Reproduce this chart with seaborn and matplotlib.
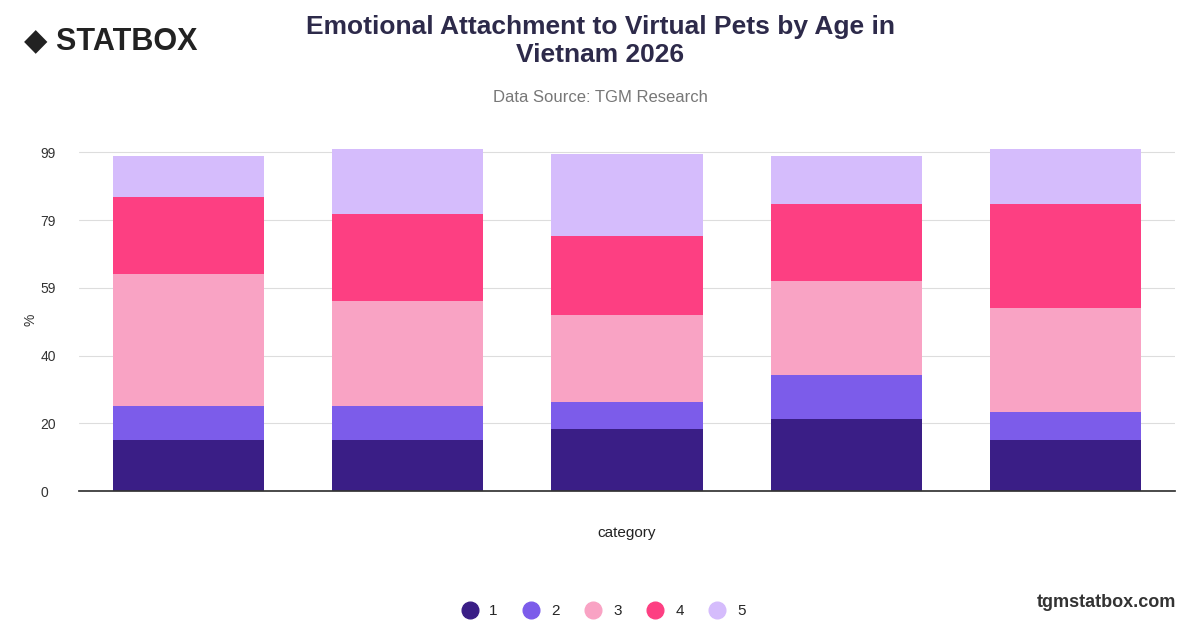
import matplotlib
matplotlib.use("Agg")
import matplotlib.pyplot as plt
import numpy as np
import pandas as pd
import seaborn as sns
from matplotlib.lines import Line2D

categories = ["A", "B", "C", "D", "E"]
s1 = [15, 15, 18, 21, 15]
s2 = [10, 10, 8, 13, 8]
s3 = [38.5, 30.5, 25.5, 27.5, 30.5]
s4 = [22.5, 25.5, 23, 22.5, 30.5]
s5 = [12, 19, 24, 14, 16]
series_names = ["1", "2", "3", "4", "5"]
colors = ["#3a1e86", "#7c5cea", "#f9a3c4", "#fd3f82", "#d5bcfc"]
tick_vals = [0, 19.8, 39.6, 59.4, 79.2, 99]
tick_labels = ["0", "20", "40", "59", "79", "99"]

sns.set_theme(style="white")
plt.rcParams["font.family"] = ["Liberation Sans", "DejaVu Sans"]

fig = plt.figure(figsize=(12, 6.28), dpi=100)
ax = fig.add_axes([0.066, 0.218, 0.913, 0.545])

bottom = np.zeros(len(categories))
for name, vals, c in zip(series_names, [s1, s2, s3, s4, s5], colors):
    df = pd.DataFrame({"category": categories, "value": vals})
    ax.bar(df["category"], df["value"], bottom=bottom, width=0.69, color=c, linewidth=0)
    bottom += np.array(vals)

ax.set_ylim(0, 100)
ax.set_xlim(-0.5, 4.5)
ax.set_yticks(tick_vals)
ax.set_yticklabels(tick_labels, fontsize=10, color="#333333")
ax.set_xticks([])
ax.yaxis.grid(True, color="#dddddd", linewidth=0.8)
ax.set_axisbelow(True)
for s in ["top", "right", "left"]:
    ax.spines[s].set_visible(False)
ax.spines["bottom"].set_color("#333333")
ax.tick_params(axis="y", length=0, pad=28)
for t in ax.get_yticklabels():
    t.set_horizontalalignment("left")
ax.set_ylabel("%", fontsize=10, color="#333333", labelpad=2)
ax.set_xlabel("category", fontsize=11, color="#222222", labelpad=25)

fig.text(0.5, 0.935, "Emotional Attachment to Virtual Pets by Age in\nVietnam 2026",
         ha="center", va="center", fontsize=19, fontweight="bold", color="#2d2a4a")
fig.text(0.5, 0.838, "Data Source: TGM Research", ha="center", fontsize=12, color="#777777")
fig.text(0.02, 0.935, "◆ STATBOX", ha="left", va="center", fontsize=22, fontweight="bold", color="#222222")
fig.text(0.98, 0.033, "tgmstatbox.com", ha="right", fontsize=13, fontweight="bold", color="#333333")

handles = [Line2D([], [], marker="o", linestyle="", markersize=12, color=c) for c in colors]
fig.legend(handles, series_names, loc="center", bbox_to_anchor=(0.5, 0.027), ncol=5,
           frameon=False, fontsize=11, handletextpad=0.3, columnspacing=1.2)

fig.savefig("out.png", dpi=100)
